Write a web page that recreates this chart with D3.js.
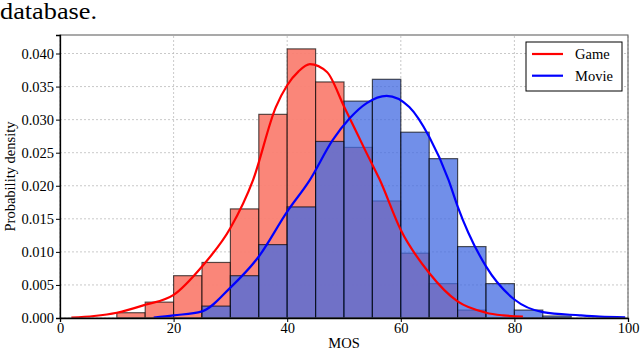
<!DOCTYPE html>
<html>
<head>
<meta charset="utf-8">
<script src="https://cdn.jsdelivr.net/npm/d3@7"></script>
<style>
  body { margin: 0; background: #fff; }
  svg text { font-family: "Liberation Serif", "DejaVu Serif", serif; }
  .grid line { stroke: #bbb; stroke-dasharray: 2,2; stroke-width: 0.8; }
</style>
</head>
<body>
<script>
const width = 640;
const height = 350;
const margin = { top: 35, right: 12, bottom: 32, left: 60 };

// histogram bins (left edges, width 5)
const binStarts = [10, 15, 20, 25, 30, 35, 40, 45, 50, 55, 60, 65, 70, 75, 80, 85];
const gameHist = [0.0008, 0.0024, 0.0064, 0.0084, 0.0165, 0.0308, 0.0407, 0.0357, 0.0258, 0.0177, 0.0098, 0.0052, 0.0012, 0, 0, 0];
const movieHist = [0, 0, 0, 0.0018, 0.0064, 0.0111, 0.0168, 0.0267, 0.0328, 0.0361, 0.0281, 0.0241, 0.0108, 0.0052, 0.0012, 0.0003];

// density curves
const gameKdeX = [2, 6, 10, 15, 20, 25, 30, 34, 38, 40, 42, 44, 47, 50, 54, 56.3, 60, 65, 70, 75, 78, 81.5];
const gameKdeY = [0.00005, 0.0003, 0.0008, 0.002, 0.0035, 0.0078, 0.0136, 0.0209, 0.0319, 0.0352, 0.0373, 0.0384, 0.0372, 0.0320, 0.0249, 0.0209, 0.0133, 0.0068, 0.0025, 0.0008, 0.0004, 0.0002];
const movieKdeX = [16.5, 20, 25, 30, 35, 40, 44, 48, 51, 54, 57.5, 61.5, 65, 68.4, 70, 75, 80, 85, 91.5, 95, 99.5];
const movieKdeY = [0.00005, 0.0004, 0.001, 0.0046, 0.0093, 0.0161, 0.0209, 0.0269, 0.0302, 0.0325, 0.0336, 0.0319, 0.0274, 0.0209, 0.0169, 0.0078, 0.0028, 0.0009, 0.0004, 0.0002, 0.0001];

const xTicks = [0, 20, 40, 60, 80, 100];
const yTicks = [0, 0.005, 0.01, 0.015, 0.02, 0.025, 0.03, 0.035, 0.04];

const svg = d3
  .select("body")
  .append("svg")
  .attr("width", width)
  .attr("height", height);

const x = d3.scaleLinear().domain([0, 100]).range([margin.left, width - margin.right]);
const y = d3.scaleLinear().domain([0, 0.0428]).range([height - margin.bottom, margin.top]);

svg.append("text")
  .attr("x", 0)
  .attr("y", 19)
  .attr("font-size", 23)
  .attr("textLength", 97)
  .attr("lengthAdjust", "spacingAndGlyphs")
  .text("database.");

// grid
svg.append("g")
  .attr("class", "grid")
  .selectAll("line.v")
  .data(xTicks)
  .join("line")
  .attr("x1", d => x(d)).attr("x2", d => x(d))
  .attr("y1", y.range()[0]).attr("y2", y.range()[1]);
svg.append("g")
  .attr("class", "grid")
  .selectAll("line.h")
  .data(yTicks)
  .join("line")
  .attr("x1", x.range()[0]).attr("x2", x.range()[1])
  .attr("y1", d => y(d)).attr("y2", d => y(d));

function drawHist(values, fill, opacity) {
  svg.append("g")
    .selectAll("rect")
    .data(binStarts.map((b, i) => ({ b, v: values[i] })).filter(d => d.v > 0))
    .join("rect")
    .attr("x", d => x(d.b))
    .attr("width", d => x(d.b + 5) - x(d.b))
    .attr("y", d => y(d.v))
    .attr("height", d => y(0) - y(d.v))
    .attr("fill", fill)
    .attr("fill-opacity", opacity)
    .attr("stroke", "#000")
    .attr("stroke-opacity", 0.65)
    .attr("stroke-width", 1.2);
}
drawHist(gameHist, "#fa8072", 0.95);
drawHist(movieHist, "#4169e1", 0.75);

const line = d3.line()
  .x(d => x(d[0]))
  .y(d => y(d[1]))
  .curve(d3.curveMonotoneX);

svg.append("path")
  .datum(gameKdeX.map((v, i) => [v, gameKdeY[i]]))
  .attr("d", line)
  .attr("fill", "none")
  .attr("stroke", "#ff0000")
  .attr("stroke-width", 2.2);
svg.append("path")
  .datum(movieKdeX.map((v, i) => [v, movieKdeY[i]]))
  .attr("d", line)
  .attr("fill", "none")
  .attr("stroke", "#0000ff")
  .attr("stroke-width", 2.2);

// frame
svg.append("rect")
  .attr("x", x.range()[0])
  .attr("y", y.range()[1])
  .attr("width", x.range()[1] - x.range()[0])
  .attr("height", y.range()[0] - y.range()[1])
  .attr("fill", "none")
  .attr("stroke", "#555")
  .attr("stroke-width", 1);

const xAxis = svg.append("g")
  .attr("transform", `translate(0,${y(0)})`)
  .call(d3.axisBottom(x).tickValues(xTicks).tickSize(4).tickPadding(1).tickFormat(d3.format("d")));
const yAxis = svg.append("g")
  .attr("transform", `translate(${x(0)},0)`)
  .call(d3.axisLeft(y).tickValues(yTicks).tickSize(4).tickPadding(2).tickFormat(d3.format(".3f")));
[xAxis, yAxis].forEach(a => {
  a.attr("font-family", null).attr("font-size", null);
  a.select(".domain").attr("stroke", "#000").attr("stroke-width", 1.3);
  a.selectAll("text").attr("font-size", 14.5).attr("fill", "#000");
});

svg.append("text")
  .attr("x", (x.range()[0] + x.range()[1]) / 2)
  .attr("y", 348)
  .attr("text-anchor", "middle")
  .attr("font-size", 14.5)
  .text("MOS");
svg.append("text")
  .attr("transform", `translate(15,${(y.range()[0] + y.range()[1]) / 2}) rotate(-90)`)
  .attr("text-anchor", "middle")
  .attr("font-size", 14.5)
  .text("Probability density");

// legend
const legend = svg.append("g").attr("transform", "translate(526,42)");
legend.append("rect")
  .attr("width", 96).attr("height", 49)
  .attr("fill", "#fff").attr("stroke", "#000").attr("stroke-width", 1);
[["Game", "#ff0000"], ["Movie", "#0000ff"]].forEach(([name, color], i) => {
  const yy = 12 + i * 21.7;
  legend.append("line")
    .attr("x1", 6).attr("x2", 37).attr("y1", yy).attr("y2", yy)
    .attr("stroke", color).attr("stroke-width", 2.2);
  legend.append("text")
    .attr("x", 49).attr("y", yy + 5)
    .attr("font-size", 14.5)
    .text(name);
});
</script>
</body>
</html>
